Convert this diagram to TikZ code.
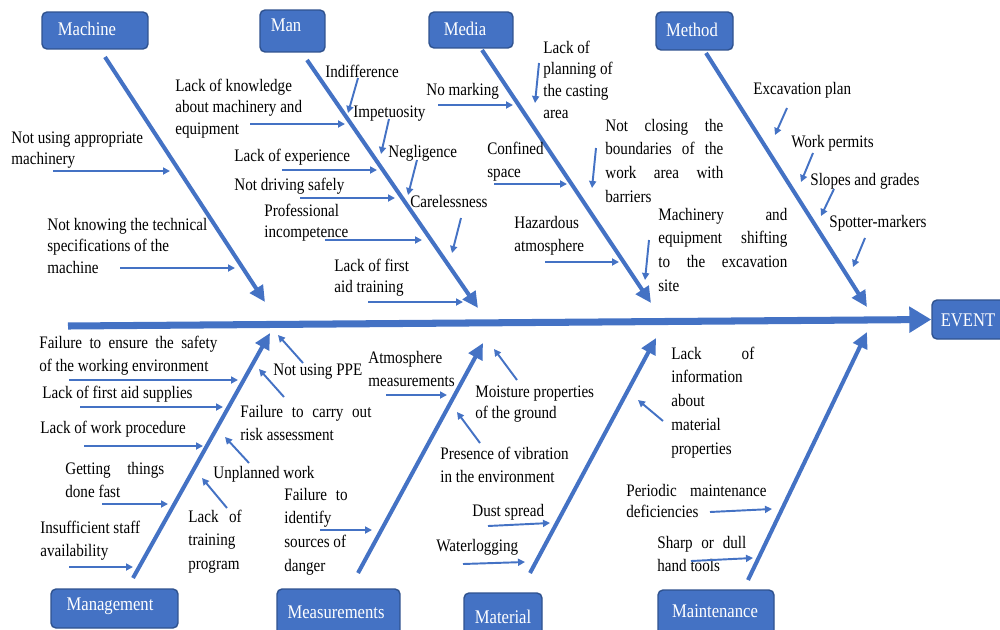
\documentclass[tikz,border=0pt]{standalone}
\usepackage{fontspec}
\setmainfont{Liberation Serif}
\usetikzlibrary{arrows.meta}
\definecolor{bl}{HTML}{4472C4}
\definecolor{bd}{HTML}{2F528F}
\newcommand{\tx}[1]{\scalebox{0.86}[1]{\begin{tabular}[t]{@{}l@{}}#1\end{tabular}}}
\newcommand{\js}[2]{\makebox[#1][s]{#2}}
\newcommand{\bx}[1]{\scalebox{0.86}[1]{#1}}
\newcommand{\sarr}[3]{\coordinate (#1s) at (#2); \coordinate (#1e) at (#3); \draw[smallarr] (#1s) -- (#1e);}
\newcommand{\bone}[3]{\coordinate (#1s) at (#2); \coordinate (#1e) at (#3); \draw[bonearr] (#1s) -- (#1e);}
\begin{document}
\begin{tikzpicture}[x=0.02cm,y=-0.02cm,
  lbl/.style={anchor=base west,inner sep=0pt,font=\fontsize{10}{12.5}\selectfont},
  lblw/.style={anchor=base west,inner sep=0pt,font=\fontsize{10}{13.6}\selectfont},
  catbox/.style={draw=bd,line width=0.8pt,fill=bl,rounded corners=0.1cm,inner sep=0pt},
  cattext/.style={anchor=base,inner sep=0pt,text=white,font=\fontsize{11}{13}\selectfont},
  smallarr/.style={draw=bl,line width=1.1pt,-{Triangle[length=0.14cm,width=0.14cm]}},
  bonearr/.style={draw=bl,line width=2.3pt,-{Triangle[length=0.32cm,width=0.3cm]}},
  spinearr/.style={draw=bl,line width=4pt,-{Triangle[length=0.44cm,width=0.5cm]}}]
\useasboundingbox (0,0) rectangle (1000,629);

% category boxes
\node[catbox,minimum width=2.12cm,minimum height=0.74cm] (machine) at (95,30.5) {};
\node[cattext] (machineT) at (87,35) {\bx{Machine}};
\node[catbox,minimum width=1.3cm,minimum height=0.84cm] (man) at (292.5,31) {};
\node[cattext] (manT) at (286,31) {\bx{Man}};
\node[catbox,minimum width=1.68cm,minimum height=0.72cm] (media) at (471,30) {};
\node[cattext] (mediaT) at (465,35) {\bx{Media}};
\node[catbox,minimum width=1.54cm,minimum height=0.76cm] (method) at (694.5,31) {};
\node[cattext] (methodT) at (692,36) {\bx{Method}};
\node[catbox,minimum width=2.54cm,minimum height=0.78cm] (mgmt) at (114.5,608.5) {};
\node[cattext] (mgmtT) at (110,610) {\bx{Management}};
\node[catbox,minimum width=2.46cm,minimum height=1.02cm] (meas) at (338.5,614.5) {};
\node[cattext] (measT) at (336,618) {\bx{Measurements}};
\node[catbox,minimum width=1.56cm,minimum height=0.94cm] (material) at (503,616.5) {};
\node[cattext] (materialT) at (503,623) {\bx{Material}};
\node[catbox,minimum width=2.32cm,minimum height=1.0cm] (maint) at (716,615) {};
\node[cattext] (maintT) at (715,617) {\bx{Maintenance}};
\node[catbox,minimum width=1.56cm,minimum height=0.78cm] (event) at (971,319.5) {};
\node[cattext] (eventT) at (968,326) {\bx{EVENT}};

% spine
\coordinate (spineS) at (68,326);
\draw[spinearr] (spineS) -- (event.west);

% bones
\bone{bMach}{105,57}{265,302}
\bone{bMan}{307,60}{478,308}
\bone{bMedia}{482,50}{651,303}
\bone{bMethod}{706,53}{867,307}
\bone{bMgmt}{133,578}{270,333}
\bone{bMeas}{358,573}{483,343}
\bone{bMat}{530,573}{656,338}
\bone{bMaint}{748,580}{867,332}

% Machine
\node[lbl] (m1) at (11,143) {\tx{Not using appropriate\\machinery}};
\node[lbl] (m2) at (47,230) {\tx{Not knowing the technical\\specifications of the\\machine}};
\sarr{am1}{53,171}{170,171}
\sarr{am2}{120,268}{235,268}

% Man
\node[lbl] (n1) at (175,91) {\tx{Lack of knowledge\\about machinery and\\equipment}};
\node[lbl] (n2) at (325,77) {\tx{Indifference}};
\node[lbl] (n3) at (353,117) {\tx{Impetuosity}};
\node[lbl] (n4) at (234,161) {\tx{Lack of experience}};
\node[lbl] (n5) at (388,157) {\tx{Negligence}};
\node[lbl] (n6) at (234,190) {\tx{Not driving safely}};
\node[lbl] (n7) at (264,216) {\tx{Professional\\incompetence}};
\node[lbl] (n8) at (410,207) {\tx{Carelessness}};
\node[lbl] (n9) at (334,271) {\tx{Lack of first\\aid training}};
\sarr{an1}{250,124}{345,124}
\sarr{an2}{358,78}{348,113}
\sarr{an3}{389,119}{381,154}
\sarr{an4}{282,170}{377,170}
\sarr{an5}{417,160}{408,195}
\sarr{an6}{300,198}{395,198}
\sarr{an7}{325,240}{422,240}
\sarr{an8}{461,218}{452,253}
\sarr{an9}{368,302}{463,302}

% Media
\node[lbl] (d1) at (426,95) {\tx{No marking}};
\node[lbl] (d2) at (543,53) {\tx{Lack of\\planning of\\the casting\\area}};
\node[lblw] (d3) at (487,154) {\tx{Confined\\space}};
\node[lblw] (d4) at (605,131) {\tx{\js{2.745cm}{Not closing the}\\\js{2.745cm}{boundaries of the}\\\js{2.745cm}{work area with}\\barriers}};
\node[lblw] (d5) at (514,228) {\tx{Hazardous\\atmosphere}};
\node[lblw] (d6) at (658,220) {\tx{\js{3.0cm}{Machinery and}\\\js{3.0cm}{equipment shifting}\\\js{3.0cm}{to the excavation}\\site}};
\sarr{ad1}{438,105}{513,105}
\sarr{ad2}{539,63}{535,103}
\sarr{ad3}{494,184}{567,184}
\sarr{ad4}{596,148}{592,188}
\sarr{ad5}{545,262}{619,262}
\sarr{ad6}{649,240}{645,280}

% Method
\node[lbl] (t1) at (753,94) {\tx{Excavation plan}};
\node[lbl] (t2) at (791,147) {\tx{Work permits}};
\node[lbl] (t3) at (810,185) {\tx{Slopes and grades}};
\node[lbl] (t4) at (829,227) {\tx{Spotter-markers}};
\sarr{at1}{787,108}{775,135}
\sarr{at2}{813,153}{801,182}
\sarr{at3}{834,189}{821,216}
\sarr{at4}{865,238}{853,267}

% Management
\node[lblw] (g1) at (39,348) {\tx{\js{4.14cm}{Failure to ensure the safety}\\of the working environment}};
\node[lbl] (g2) at (42,398) {\tx{Lack of first aid supplies}};
\node[lbl] (g3) at (40,433) {\tx{Lack of work procedure}};
\node[lblw] (g4) at (65,474) {\tx{\js{2.30cm}{Getting things}\\done fast}};
\node[lblw] (g5) at (40,533) {\tx{Insufficient staff\\availability}};
\node[lbl] (g6) at (273,375) {\tx{Not using PPE}};
\node[lblw] (g7) at (240,417) {\tx{\js{3.05cm}{Failure to carry out}\\risk assessment}};
\node[lbl] (g8) at (213,478) {\tx{Unplanned work}};
\node[lblw] (g9) at (188,522) {\tx{\js{1.24cm}{Lack of}\\training\\program}};
\sarr{ag1}{69,380}{238,380}
\sarr{ag2}{80,407}{223,407}
\sarr{ag3}{84,446}{203,446}
\sarr{ag4}{102,504}{168,504}
\sarr{ag5}{69,567}{133,567}
\sarr{ag6}{303,363}{278,335}
\sarr{ag7}{284,397}{259,369}
\sarr{ag8}{249,463}{225,437}
\sarr{ag9}{227,508}{202,478}

% Measurements
\node[lblw] (s1) at (368,363) {\tx{Atmosphere\\measurements}};
\node[lblw] (s2) at (284,500) {\tx{\js{1.47cm}{Failure to}\\identify\\sources of\\danger}};
\node[lbl] (s3) at (475,397) {\tx{Moisture properties\\of the ground}};
\node[lblw] (s4) at (440,459) {\tx{Presence of vibration\\in the environment}};
\sarr{as1}{386,395}{447,395}
\sarr{as2}{320,530}{372,530}
\sarr{as3}{517,380}{494,349}
\sarr{as4}{480,443}{457,412}

% Material
\node[lbl] (r1) at (472,516) {\tx{Dust spread}};
\node[lbl] (r2) at (436,551) {\tx{Waterlogging}};
\node[lblw] (r3) at (671,359) {\tx{\js{1.93cm}{Lack of}\\information\\about\\material\\properties}};
\sarr{ar1}{488,526}{550,523}
\sarr{ar2}{463,564}{525,562}
\sarr{ar3}{663,421}{638,400}

% Maintenance
\node[lbl] (p1) at (626,496) {\tx{\js{3.26cm}{Periodic maintenance}\\deficiencies}};
\node[lblw] (p2) at (657,548) {\tx{\js{2.07cm}{Sharp or dull}\\hand tools}};
\sarr{ap1}{710,512}{772,509}
\sarr{ap2}{691,561}{753,558}
\end{tikzpicture}
\end{document}
